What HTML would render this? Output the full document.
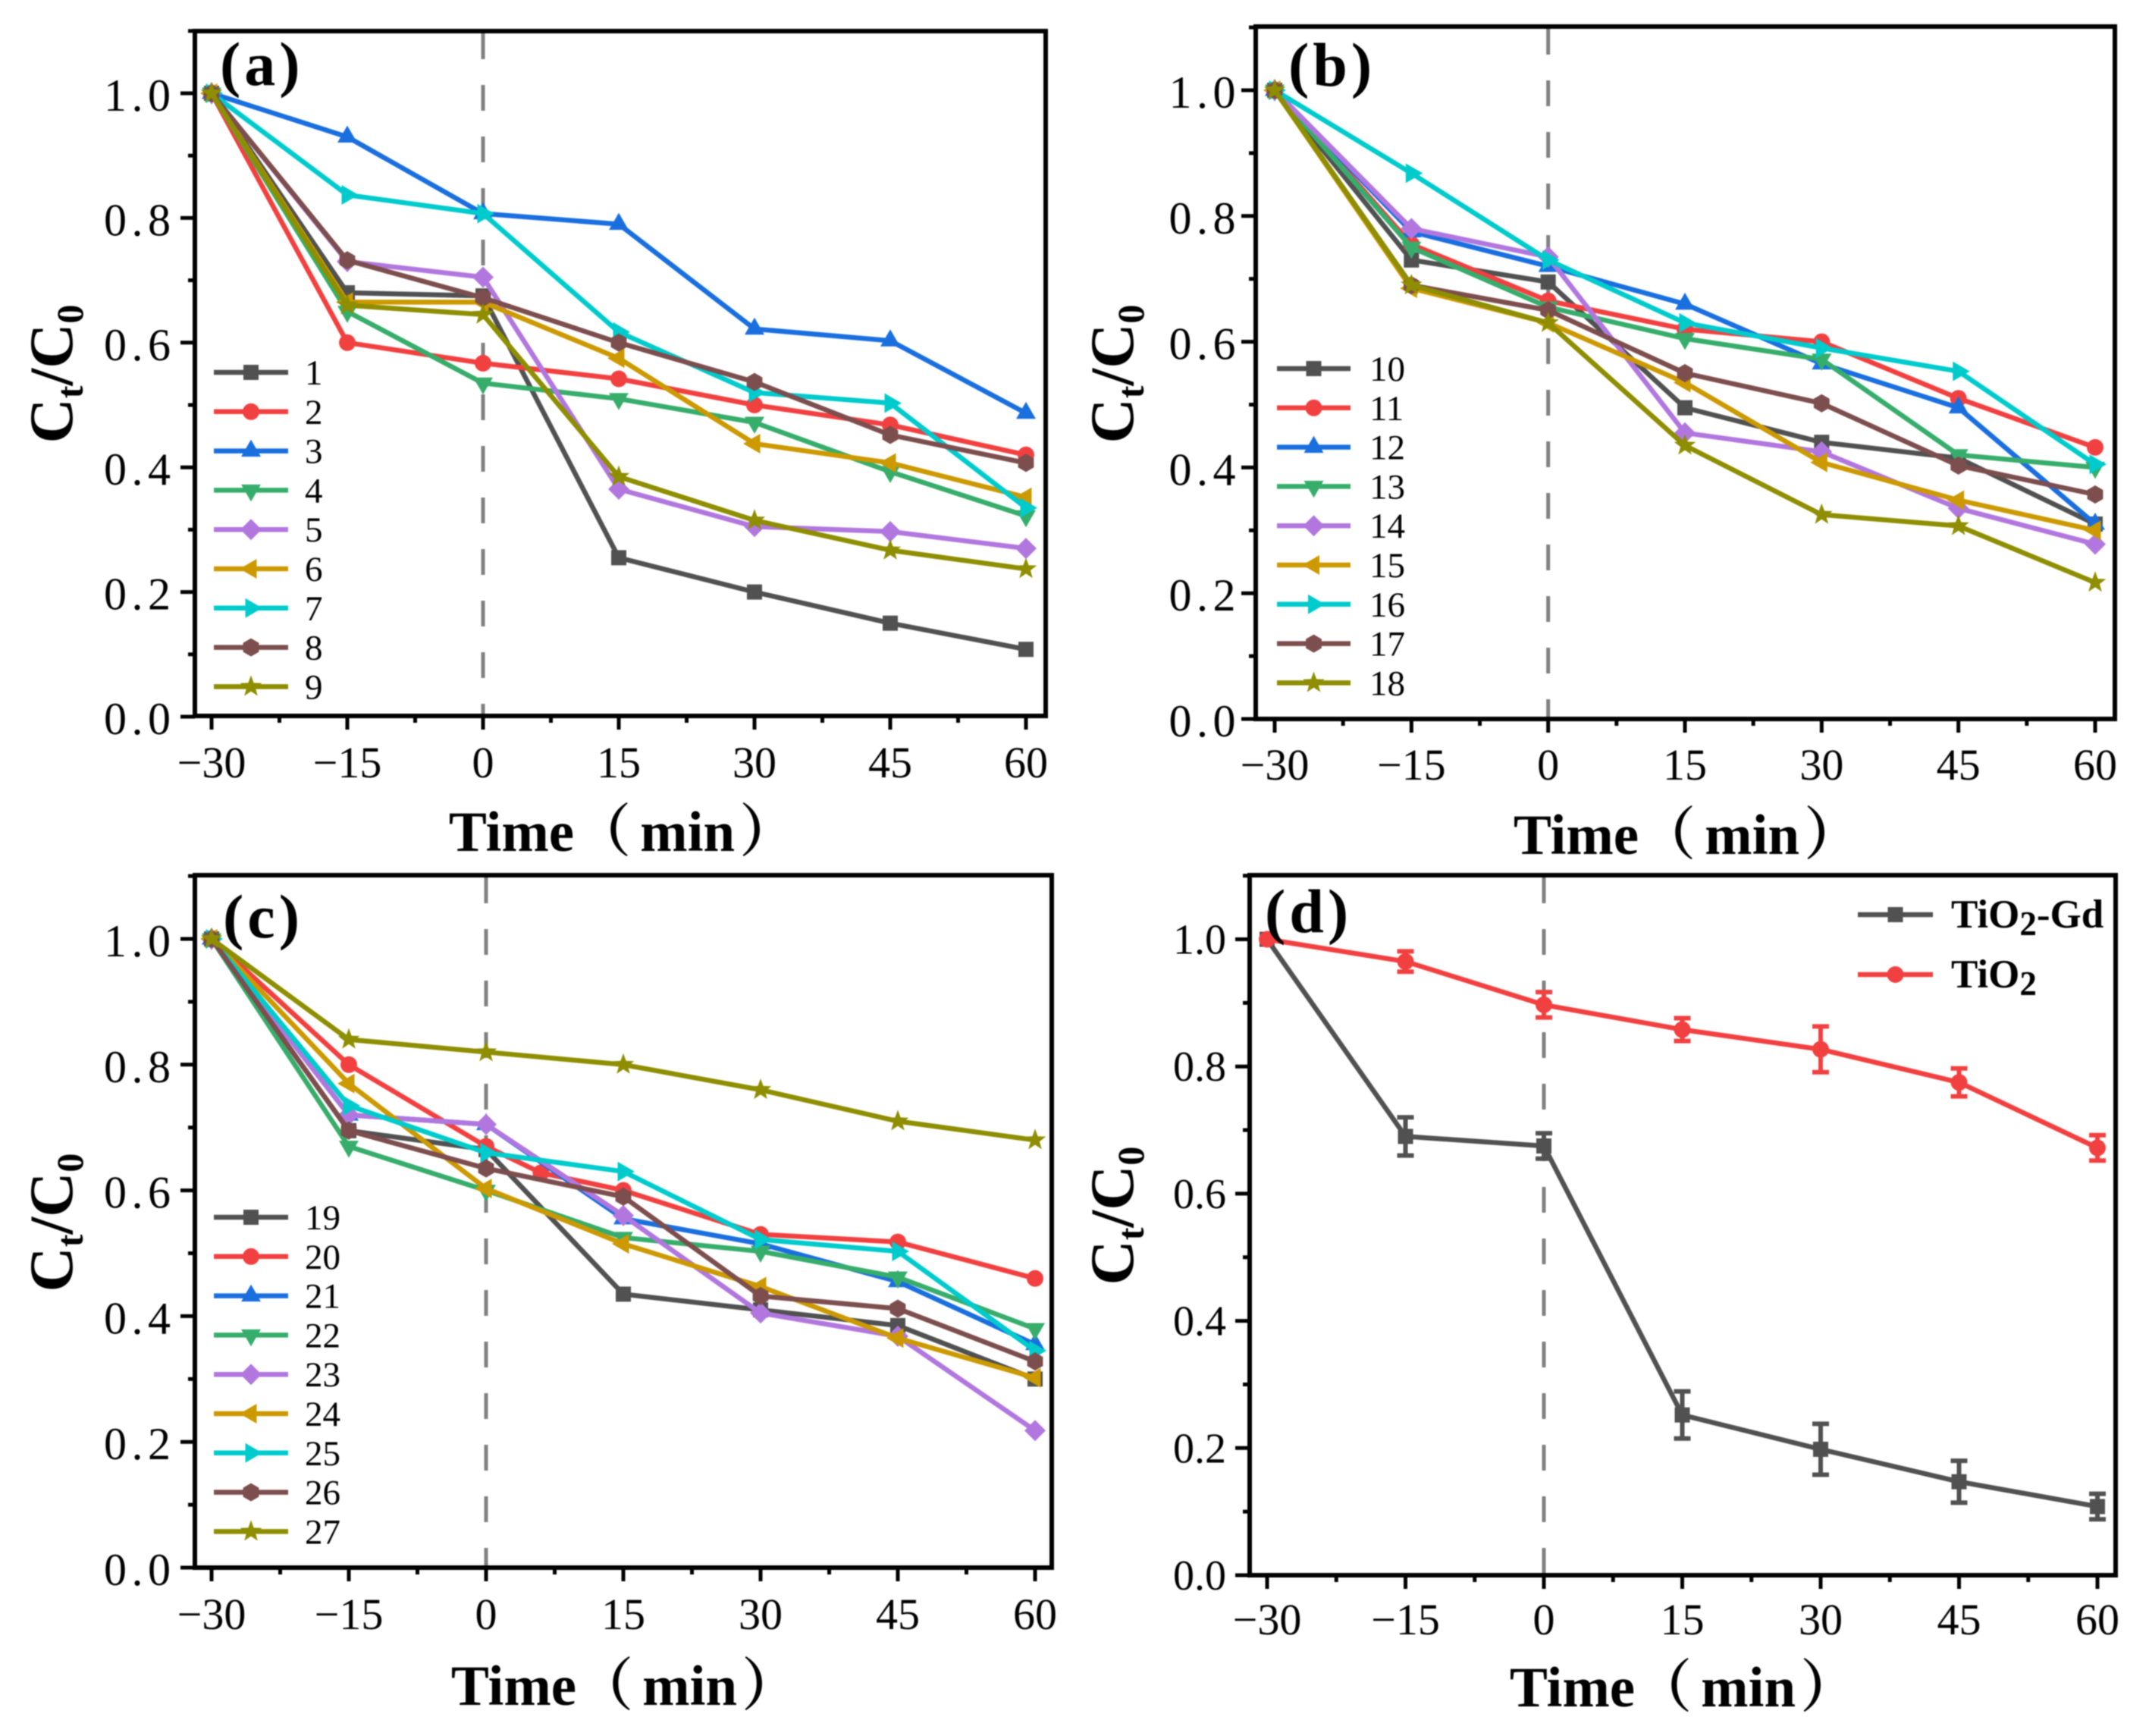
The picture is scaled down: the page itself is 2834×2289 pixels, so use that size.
<!DOCTYPE html>
<html lang="en">
<head>
<meta charset="utf-8">
<title>Ct/C0 versus time, panels a to d</title>
<style>
html,body{margin:0;padding:0;background:#fff}
svg{display:block;filter:blur(0.7px)}
text{font-family:"Liberation Serif","Noto Serif CJK SC",serif;fill:#000}
</style>
</head>
<body>
<svg id="figure" xmlns="http://www.w3.org/2000/svg" width="2834" height="2289" viewBox="0 0 2834 2289"></svg>
<script>
// ---- shared axis data ----
const times = [-30, -15, 0, 15, 30, 45, 60];
const xTickValues = [-30, -15, 0, 15, 30, 45, 60];
const xTickLabels = ['−30', '−15', '0', '15', '30', '45', '60'];
const xMinorValues = [-22.5, -7.5, 7.5, 22.5, 37.5, 52.5];
const yTickValues = [0, 0.2, 0.4, 0.6, 0.8, 1.0];
const yTickLabels = ['0.0', '0.2', '0.4', '0.6', '0.8', '1.0'];
const yMinorValues = [0.1, 0.3, 0.5, 0.7, 0.9, 1.1];

// ---- panel (a) ----
const series1 = [1, 0.68, 0.675, 0.255, 0.2, 0.15, 0.108];
const series2 = [1, 0.6, 0.567, 0.542, 0.5, 0.468, 0.42];
const series3 = [1, 0.93, 0.807, 0.79, 0.622, 0.603, 0.487];
const series4 = [1, 0.65, 0.535, 0.51, 0.472, 0.393, 0.322];
const series5 = [1, 0.73, 0.705, 0.365, 0.305, 0.297, 0.27];
const series6 = [1, 0.665, 0.665, 0.575, 0.438, 0.407, 0.352];
const series7 = [1, 0.837, 0.807, 0.617, 0.52, 0.503, 0.335];
const series8 = [1, 0.732, 0.672, 0.6, 0.537, 0.452, 0.407];
const series9 = [1, 0.66, 0.645, 0.385, 0.315, 0.267, 0.237];

// ---- panel (b) ----
const series10 = [1, 0.73, 0.695, 0.495, 0.44, 0.415, 0.31];
const series11 = [1, 0.755, 0.665, 0.62, 0.6, 0.51, 0.432];
const series12 = [1, 0.775, 0.72, 0.66, 0.565, 0.495, 0.31];
const series13 = [1, 0.75, 0.655, 0.605, 0.572, 0.42, 0.4];
const series14 = [1, 0.78, 0.735, 0.455, 0.425, 0.335, 0.278];
const series15 = [1, 0.685, 0.63, 0.535, 0.408, 0.348, 0.3];
const series16 = [1, 0.868, 0.73, 0.63, 0.59, 0.553, 0.405];
const series17 = [1, 0.69, 0.65, 0.55, 0.502, 0.403, 0.357];
const series18 = [1, 0.69, 0.63, 0.435, 0.325, 0.307, 0.217];

// ---- panel (c) ----
const series19 = [1, 0.695, 0.665, 0.435, 0.41, 0.385, 0.3];
const series20Times = [-30, -15, 0, 6, 15, 30, 45, 60];
const series20 = [1, 0.8, 0.67, 0.628, 0.6, 0.53, 0.518, 0.46];
const series21 = [1, 0.72, 0.705, 0.555, 0.515, 0.455, 0.355];
const series22 = [1, 0.67, 0.6, 0.525, 0.503, 0.462, 0.38];
const series23 = [1, 0.72, 0.705, 0.56, 0.405, 0.368, 0.218];
const series24 = [1, 0.77, 0.603, 0.515, 0.447, 0.365, 0.302];
const series25 = [1, 0.735, 0.66, 0.63, 0.522, 0.503, 0.345];
const series26 = [1, 0.695, 0.635, 0.59, 0.432, 0.412, 0.328];
const series27 = [1, 0.84, 0.82, 0.8, 0.76, 0.71, 0.68];

// ---- panel (d) ----
const tio2Gd = [1, 0.69, 0.675, 0.252, 0.198, 0.147, 0.108];
const tio2GdError = [0, 0.03, 0.02, 0.037, 0.04, 0.033, 0.02];
const tio2 = [1, 0.965, 0.897, 0.858, 0.827, 0.775, 0.672];
const tio2Error = [0, 0.016, 0.02, 0.018, 0.036, 0.022, 0.02];

// ---- styles, separate from the data ----
const palette = ['#515151', '#F14040', '#1A6FDF', '#37AD6B', '#B177DE', '#CC9900', '#00CBCC', '#7D4E4E', '#8E8E00'];
const markerKinds = ['square', 'circle', 'up', 'down', 'diamond', 'left', 'right', 'hexagon', 'star'];
const NS = 'http://www.w3.org/2000/svg';
const root = document.getElementById('figure');

function make(tag, attrs, parent) {
  const el = document.createElementNS(NS, tag);
  for (const k in attrs) el.setAttribute(k, attrs[k]);
  parent.appendChild(el);
  return el;
}
function linearScale(d0, d1, r0, r1) {
  return function (v) { return r0 + (v - d0) * (r1 - r0) / (d1 - d0); };
}
function polygonPoints(cx, cy, r, count, startDeg, innerR) {
  const pts = [];
  const total = innerR ? count * 2 : count;
  for (let i = 0; i < total; i++) {
    const a = (startDeg + i * 360 / total) * Math.PI / 180;
    const rad = innerR && i % 2 ? innerR : r;
    pts.push((cx + rad * Math.cos(a)).toFixed(1) + ',' + (cy + rad * Math.sin(a)).toFixed(1));
  }
  return pts.join(' ');
}
function drawMarker(kind, cx, cy, color, parent, name) {
  let el;
  if (kind === 'circle') {
    el = make('circle', { cx: cx, cy: cy, r: 11, fill: color }, parent);
  } else if (kind === 'square') {
    el = make('rect', { x: cx - 10, y: cy - 10, width: 20, height: 20, fill: color }, parent);
  } else {
    const spec = {
      up: [15, 3, -90, 0], down: [15, 3, 90, 0], left: [15, 3, 180, 0], right: [15, 3, 0, 0],
      diamond: [14, 4, 0, 0], hexagon: [12, 6, -90, 0], star: [15, 5, -90, 6.2]
    }[kind];
    el = make('polygon', { points: polygonPoints(cx, cy, spec[0], spec[1], spec[2], spec[3]), fill: color }, parent);
  }
  
  
  return el;
}
function label(content, x, y, size, anchor, weight, spacing, parent, name) {
  const t = make('text', { x: x, y: y, 'font-size': size, 'text-anchor': anchor, 'font-weight': weight, 'letter-spacing': spacing }, parent);
  t.textContent = content;
  
  
  return t;
}

function drawPanel(p) {
  const g = make('g', {}, root);
  
  
  const xAt = linearScale(-30, 60, p.x30, p.x60);
  const yAt = linearScale(0, 1, p.y0, p.y1);

  // zero-time reference line
  const ref = make('line', { x1: xAt(0), x2: xAt(0), y1: p.top + 3, y2: p.bottom, stroke: '#808080', 'stroke-width': p.refWidth, 'stroke-dasharray': p.refDash }, g);
  
  

  // series
  p.series.forEach(function (s, i) {
    const color = palette[s.colorIndex];
    const sg = make('g', {}, g);
    
    
    const xs = s.times || times;
    if (s.errors) {
      s.errors.forEach(function (e, k) {
        if (!e) return;
        const cx = xAt(xs[k]);
        const stem = make('path', {
          d: 'M' + cx + ' ' + yAt(s.values[k] - e) + 'V' + yAt(s.values[k] + e) +
             'M' + (cx - 11) + ' ' + yAt(s.values[k] - e) + 'H' + (cx + 11) +
             'M' + (cx - 11) + ' ' + yAt(s.values[k] + e) + 'H' + (cx + 11),
          stroke: color, 'stroke-width': 6, fill: 'none'
        }, sg);
        
        
      });
    }
    const line = make('polyline', {
      points: s.values.map(function (v, k) { return xAt(xs[k]).toFixed(1) + ',' + yAt(v).toFixed(1); }).join(' '),
      fill: 'none', stroke: color, 'stroke-width': p.lineWidth, 'stroke-linejoin': 'round'
    }, sg);
    
    
    s.values.forEach(function (v, k) {
      drawMarker(markerKinds[s.colorIndex], xAt(xs[k]), yAt(v), color, sg, 'point-' + s.name);
    });
  });

  // frame
  const frame = make('rect', { x: p.left, y: p.top, width: p.right - p.left, height: p.bottom - p.top, fill: 'none', stroke: '#000', 'stroke-width': 6 }, g);
  
  

  // x ticks
  xTickValues.forEach(function (v, i) {
    const tick = make('line', { x1: xAt(v), x2: xAt(v), y1: p.bottom, y2: p.bottom + 18, stroke: '#000', 'stroke-width': 5 }, g);
    
    
    label(xTickLabels[i], xAt(v), p.xLabelY, p.xFont, 'middle', 'normal', 0, g, 'x-tick-label');
  });
  xMinorValues.forEach(function (v) {
    const tick = make('line', { x1: xAt(v), x2: xAt(v), y1: p.bottom, y2: p.bottom + 9, stroke: '#000', 'stroke-width': 5 }, g);
    
    
  });

  // y ticks
  yTickValues.forEach(function (v, i) {
    const tick = make('line', { x1: p.left - 19, x2: p.left, y1: yAt(v), y2: yAt(v), stroke: '#000', 'stroke-width': 5 }, g);
    
    
    label(yTickLabels[i], p.yLabelX, yAt(v) + p.yLabelDy, p.yFont, 'end', 'normal', p.ySpacing, g, 'y-tick-label');
  });
  yMinorValues.forEach(function (v) {
    const tick = make('line', { x1: p.left - 9, x2: p.left, y1: yAt(v), y2: yAt(v), stroke: '#000', 'stroke-width': 5 }, g);
    
    
  });

  // titles
  const xTitle = make('text', { x: p.xTitleX, y: p.xTitleY, 'font-size': 75, 'font-weight': 'bold', 'text-anchor': 'middle' }, g);
  
  
  xTitle.innerHTML = 'Time（<tspan dx="12">min</tspan><tspan dx="6">）</tspan>';
  const yTitle = make('text', { transform: 'translate(' + p.yTitleX + ',' + p.yTitleY + ') rotate(-90)', 'font-size': 82, 'font-weight': 'bold', 'text-anchor': 'middle' }, g);
  
  
  yTitle.innerHTML = 'C<tspan font-size="50" dy="14">t</tspan><tspan dy="-14">/C</tspan><tspan font-size="50" dy="14">0</tspan>';
  label('(' + p.id + ')', p.tagX, p.tagY, 82, 'start', 'bold', 5, g, 'panel-label');

  // legend
  p.legend.forEach(function (item, i) {
    const y = p.legendY + i * p.legendStep;
    const lg = make('g', {}, g);
    
    
    const swatch = make('line', { x1: p.legendX1, x2: p.legendX2, y1: y, y2: y, stroke: palette[item.colorIndex], 'stroke-width': p.lineWidth }, lg);
    
    
    drawMarker(markerKinds[item.colorIndex], (p.legendX1 + p.legendX2) / 2, y, palette[item.colorIndex], lg, 'legend-marker');
    if (item.html) {
      const t = make('text', { x: p.legendTextX, y: y + 17, 'font-size': 53, 'font-weight': 'bold' }, lg);
      
      
      t.innerHTML = item.html;
    } else {
      label(item.text, p.legendTextX, y + 16, 47, 'start', 'normal', 0, lg, 'legend-label');
    }
  });
}

function numbered(list, firstNumber) {
  return list.map(function (values, i) {
    return { name: String(firstNumber + i), values: values, colorIndex: i };
  });
}
function legendFrom(series) {
  return series.map(function (s) { return { text: s.name, colorIndex: s.colorIndex }; });
}

const seriesA = numbered([series1, series2, series3, series4, series5, series6, series7, series8, series9], 1);
const seriesB = numbered([series10, series11, series12, series13, series14, series15, series16, series17, series18], 10);
const seriesC = numbered([series19, series20, series21, series22, series23, series24, series25, series26, series27], 19);
seriesC[1].times = series20Times;
const seriesD = [
  { name: 'TiO2-Gd', values: tio2Gd, errors: tio2GdError, colorIndex: 0 },
  { name: 'TiO2', values: tio2, errors: tio2Error, colorIndex: 1 }
];

const shared = { lineWidth: 6.5, refWidth: 5, refDash: '34 34', xFont: 58, yFont: 60, ySpacing: 6.5, yLabelDy: 23, legendStep: 51.8 };

drawPanel(Object.assign({}, shared, {
  id: 'a', series: seriesA, legend: legendFrom(seriesA),
  left: 257, right: 1379, top: 41, bottom: 944, x30: 279, x60: 1353, y0: 945, y1: 123,
  xLabelY: 1025, yLabelX: 231.5, xTitleX: 821, xTitleY: 1122, yTitleX: 95, yTitleY: 493,
  tagX: 290, tagY: 112, legendX1: 282, legendX2: 380, legendY: 491, legendTextX: 402
}));
drawPanel(Object.assign({}, shared, {
  id: 'b', series: seriesB, legend: legendFrom(seriesB),
  left: 1656, right: 2789, top: 35, bottom: 948, x30: 1681, x60: 2763, y0: 948, y1: 119,
  xLabelY: 1028, yLabelX: 1636, xTitleX: 2225, xTitleY: 1126, yTitleX: 1494, yTitleY: 493,
  tagX: 1699, tagY: 113, legendX1: 1684, legendX2: 1781, legendY: 486, legendTextX: 1806
}));
drawPanel(Object.assign({}, shared, {
  id: 'c', series: seriesC, legend: legendFrom(seriesC),
  left: 257, right: 1387, top: 1154, bottom: 2067, x30: 279, x60: 1365, y0: 2067, y1: 1238,
  xLabelY: 2148, yLabelX: 231.5, xTitleX: 824, xTitleY: 2248, yTitleX: 95, yTitleY: 1612,
  tagX: 294, tagY: 1236, legendX1: 282, legendX2: 380, legendY: 1605, legendTextX: 402
}));
drawPanel(Object.assign({}, shared, {
  id: 'd', series: seriesD,
  legend: [
    { colorIndex: 0, html: 'TiO<tspan font-size="45" dy="10">2</tspan><tspan dy="-10">-Gd</tspan>' },
    { colorIndex: 1, html: 'TiO<tspan font-size="45" dy="10">2</tspan>' }
  ],
  xFont: 58, yFont: 56, ySpacing: 0, yLabelDy: 19,
  left: 1648, right: 2790, top: 1154, bottom: 2077, x30: 1671, x60: 2766, y0: 2077, y1: 1238.5,
  xLabelY: 2155, yLabelX: 1617, xTitleX: 2220, xTitleY: 2250, yTitleX: 1494, yTitleY: 1603,
  tagX: 1668, tagY: 1229, legendX1: 2450, legendX2: 2549, legendY: 1206, legendStep: 79, legendTextX: 2573
}));
</script>
</body>
</html>
